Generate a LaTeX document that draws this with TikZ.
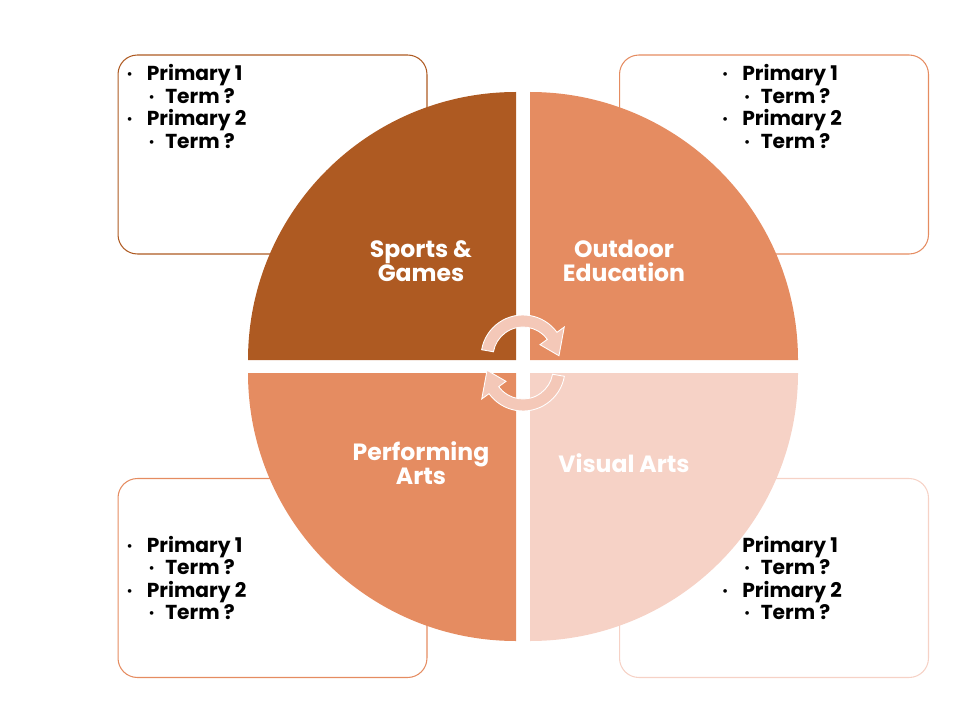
\documentclass[tikz,border=0pt]{standalone}
\usepackage{fontspec}
\setmainfont{Poppins}
\usetikzlibrary{positioning}
\definecolor{brownq}{HTML}{AE5A22}
\definecolor{orangeq}{HTML}{E58C61}
\definecolor{pinkq}{HTML}{F6D2C6}
\definecolor{arrowq}{HTML}{F4C8B8}

\newcommand{\listdot}{\raisebox{0.1em}{\scriptsize\textbullet}}
\newcommand{\termitems}{%
  \makebox[11.5pt][l]{\listdot}Primary 1\\
  \hspace*{12.5pt}\makebox[9.5pt][l]{\listdot}Term ?\\
  \makebox[11.5pt][l]{\listdot}Primary 2\\
  \hspace*{12.5pt}\makebox[9.5pt][l]{\listdot}Term ?}

\tikzset{
  pics/cycle arrow/.style={code={
    \path[cyclearrow] (170:42) arc[start angle=170, end angle=36, radius=42]
      -- (36:51) -- (2:36) -- (36:21) -- (36:30)
      arc[start angle=36, end angle=170, radius=30] -- cycle;
  }}
}

\begin{document}
\begin{tikzpicture}[
  x=0.02cm, y=0.02cm,
  termbox/.style={draw, rounded corners=11pt, line width=0.6pt,
    minimum width=6.18cm, minimum height=3.98cm, inner sep=0pt},
  termlist/.style={align=left, inner sep=0pt,
    font=\bfseries\fontsize{11.5}{12.8}\selectfont},
  quadlabel/.style={text=white, align=center,
    font=\bfseries\fontsize{13.4}{13.4}\selectfont},
  cyclearrow/.style={fill=arrowq, draw=white, line width=0.5pt}
]
\useasboundingbox (0,0) rectangle (980,711);

% boxes sit behind the pie
\node[termbox, draw=brownq] (sportsbox) at (272.5,556.5) {};
\node[termbox, draw=orangeq] (outdoorbox) at (774,556.5) {};
\node[termbox, draw=orangeq] (performbox) at (272.5,133) {};
\node[termbox, draw=pinkq] (visualbox) at (774,133) {};

\node[termlist, below right=5.5pt and 5pt of sportsbox.north west] (sportslist) {\termitems};
\node[termlist, below right=5.5pt and 58.5pt of outdoorbox.north west] (outdoorlist) {\termitems};
\node[termlist, right=5pt of performbox.west] (performlist) {\termitems};
\node[termlist, right=58.5pt of visualbox.west] (visuallist) {\termitems};

% pie quadrants
\fill[brownq] (516,351) -- (248,351) arc[start angle=180, end angle=90, radius=268] -- cycle;
\fill[orangeq] (530,351) -- (530,619) arc[start angle=90, end angle=0, radius=268] -- cycle;
\fill[orangeq] (516,338) -- (516,70) arc[start angle=270, end angle=180, radius=268] -- cycle;
\fill[pinkq] (530,338) -- (798,338) arc[start angle=0, end angle=-90, radius=268] -- cycle;

\node[quadlabel] (sports) at (421,450) {Sports \&\\Games};
\node[quadlabel] (outdoor) at (624,450) {Outdoor\\Education};
\node[quadlabel] (perform) at (421,248) {Performing\\Arts};
\node[quadlabel] (visual) at (624,248) {Visual Arts};

% cycle arrows in the middle
\pic at (523,354) {cycle arrow};
\pic[rotate=180] at (523,342) {cycle arrow};
\end{tikzpicture}
\end{document}
